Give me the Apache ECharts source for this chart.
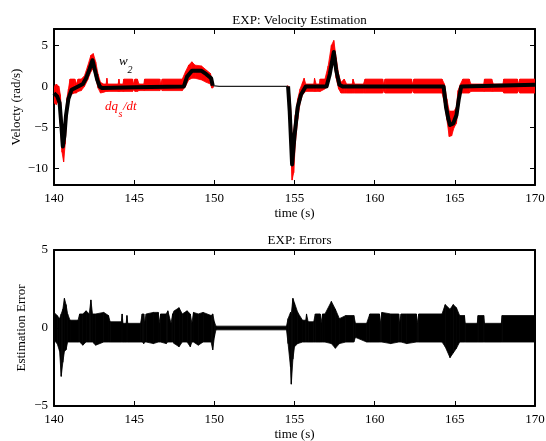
<!DOCTYPE html>
<html>
<head>
<meta charset="utf-8">
<script src="https://cdn.jsdelivr.net/npm/echarts@6/dist/echarts.min.js"></script>
<style>
  html, body { margin: 0; padding: 0; background: #fff; }
  #chart { width: 546px; height: 441px; }
</style>
</head>
<body>
<div id="chart"></div>
<script>
// axis ticks
var velTicks = [-10, -5, 0, 5];
var errTicks = [-5, 0, 5];

// dq_s/dt : [t, low, high] envelope of the noisy red trace (null row = gap)
var dqBand = [
  [140.0, -2.0, 0.0], [140.15, -2.2, 0.3], [140.3, -1.6, 0.0], [140.4, -4.5, -1.0],
  [140.5, -8.0, -4.5], [140.6, -9.2, -6.0], [140.7, -7.0, -4.0], [140.8, -3.5, -1.5],
  [140.9, -2.0, -0.3], [141.0, -1.0, 0.9], [141.3, -0.8, 0.9], [141.4, -0.8, 0.3],
  [141.5, -0.6, 0.9], [141.7, -0.5, 0.9],
  [141.9, 0.0, 1.3], [142.1, 0.8, 2.5], [142.3, 1.8, 3.8], [142.45, 2.2, 4.0],
  [142.6, 1.0, 3.0], [142.75, -0.2, 1.5], [142.9, -0.8, 0.5], [143.1, -0.7, 0.3],
  [143.25, -0.6, 0.3], [143.3, -0.6, 1.0], [143.35, -0.6, 0.3], [144.0, -0.6, 0.3],
  [144.05, -0.6, 0.9], [144.1, -0.6, 0.3], [144.3, -0.6, 0.3], [144.35, -0.6, 0.9],
  [144.9, -0.6, 0.9], [144.95, -0.4, 0.3], [145.05, -0.6, 0.9],
  [145.2, -0.6, 0.9], [145.3, -0.5, 0.3], [145.6, -0.5, 0.3], [145.65, -0.5, 0.9],
  [146.6, -0.5, 0.9], [146.65, -0.3, 0.3], [146.75, -0.5, 0.9],
  [148.0, -0.5, 0.9], [148.2, 0.0, 1.8], [148.4, 0.8, 2.6], [148.6, 1.0, 3.0],
  [148.8, 1.0, 2.6], [149.2, 0.8, 2.5], [149.5, 0.5, 2.0], [149.75, 0.3, 1.6],
  [149.85, -0.2, 1.0], [149.95, -0.1, 0.1],
  [152.0, null, null],
  [154.55, -0.1, 0.1], [154.65, -2.5, 0.0], [154.75, -7.0, -2.0], [154.85, -11.4, -6.0],
  [154.95, -10.5, -5.5], [155.05, -7.0, -3.5], [155.2, -4.0, -1.5], [155.35, -2.0, -0.3],
  [155.5, -1.0, 0.5], [155.6, -0.8, 1.0], [155.7, -0.6, 0.3], [156.2, -0.6, 0.3],
  [156.25, -0.6, 1.0], [156.35, -0.6, 0.3], [156.55, -0.6, 0.3], [156.6, -0.6, 0.9],
  [156.9, -0.3, 0.9], [157.1, 0.5, 2.5], [157.3, 2.5, 5.0], [157.45, 3.0, 5.6],
  [157.6, 1.0, 3.5], [157.75, -0.3, 1.5], [157.9, -0.8, 0.5], [158.1, -0.8, 0.9],
  [158.25, -0.8, 0.3], [158.6, -0.8, 0.3], [158.65, -0.8, 0.9], [158.75, -0.8, 0.3],
  [159.3, -0.8, 0.3], [159.4, -0.8, 0.9], [160.5, -0.8, 0.9], [160.55, -0.5, 0.3],
  [160.65, -0.8, 0.9], [162.3, -0.8, 0.9], [162.35, -0.5, 0.3], [162.45, -0.8, 0.9],
  [164.2, -0.8, 0.9], [164.35, -2.0, 0.3],
  [164.5, -4.0, -1.5], [164.65, -6.1, -3.0], [164.8, -6.0, -3.0], [164.95, -5.0, -3.0],
  [165.1, -4.5, -2.5], [165.2, -3.0, -0.5], [165.35, -0.8, 0.3], [165.5, -0.8, 0.9],
  [165.9, -0.8, 0.9], [166.0, -0.6, 0.3], [166.8, -0.6, 0.3], [166.85, -0.6, 0.9],
  [167.3, -0.6, 0.9], [167.4, -0.6, 0.3], [168.0, -0.6, 0.3], [168.05, -0.8, 0.9],
  [168.9, -0.8, 0.9], [168.95, -0.5, 0.3], [169.05, -0.8, 0.9],
  [170.0, -0.8, 0.9]
];

// w2 estimate (thick black), null = gap while idle
var w2 = [
  [140.0, -0.8], [140.2, -1.2], [140.35, -2.0], [140.45, -4.5], [140.55, -7.3],
  [140.65, -6.0], [140.75, -3.5], [140.9, -1.5], [141.1, -0.4], [141.5, 0.0],
  [141.8, 0.3], [142.0, 1.0], [142.2, 2.0], [142.4, 3.2], [142.55, 2.0],
  [142.7, 0.8], [142.85, 0.0], [143.0, -0.2], [145.0, -0.1], [148.1, 0.0],
  [148.3, 1.2], [148.6, 1.9], [149.2, 1.9], [149.5, 1.5], [149.8, 1.0], [149.9, 0.1],
  [152.0, null],
  [154.6, 0.0], [154.7, -3.0], [154.85, -9.5], [155.0, -6.0], [155.2, -2.5],
  [155.4, -1.0], [155.7, 0.0], [157.0, 0.0], [157.2, 1.5], [157.45, 4.2],
  [157.6, 2.0], [157.8, 0.2], [158.0, 0.0], [164.3, 0.0], [164.45, -2.5],
  [164.6, -4.0], [164.7, -4.7], [164.9, -4.5], [165.1, -3.5], [165.25, -1.5],
  [165.4, 0.0], [170.0, 0.2]
];
var w2Idle = [[149.9, 0.1], [150.3, 0.0], [154.6, 0.0]];

// estimation error envelope [t, low, high]
var errBand = [
  [140.0, -0.8, 1.0], [140.2, -1.0, 0.8], [140.35, -1.5, 0.6], [140.45, -3.1, 0.9],
  [140.55, -2.2, 1.2], [140.65, -1.5, 1.9], [140.75, -1.4, 1.5], [140.85, -0.9, 0.9],
  [141.0, -0.9, 0.5], [141.5, -0.9, 0.5], [141.6, -0.9, 0.9], [141.8, -1.1, 0.9],
  [142.0, -0.9, 1.1], [142.2, -0.9, 0.9],
  [142.3, -0.9, 1.8], [142.4, -0.9, 0.9], [142.6, -1.1, 0.9], [143.1, -0.9, 1.0],
  [143.4, -0.9, 0.8], [143.5, -0.9, 0.4],
  [144.2, -0.9, 0.4], [144.25, -0.9, 0.9], [144.3, -0.9, 0.3], [144.5, -0.9, 0.3],
  [144.55, -0.9, 0.8], [144.6, -0.9, 0.3], [145.4, -0.9, 0.3],
  [145.5, -0.9, 0.9], [145.6, -1.0, 0.9], [145.65, -0.9, 0.3], [145.75, -0.9, 0.9],
  [146.2, -1.0, 1.0], [146.5, -0.9, 1.0], [146.55, -0.9, 0.3], [146.65, -0.9, 0.9],
  [147.0, -1.0, 0.9], [147.1, -0.9, 1.1], [147.3, -0.9, 0.3], [147.4, -0.9, 0.9],
  [147.5, -1.0, 1.1], [147.8, -1.2, 1.3],
  [148.0, -0.9, 0.9], [148.3, -0.9, 1.1], [148.5, -1.2, 0.9], [148.6, -0.9, 0.3],
  [148.7, -0.9, 1.0], [149.0, -1.1, 0.9], [149.3, -0.9, 1.0], [149.8, -0.9, 0.8],
  [149.9, -1.4, 0.9], [150.0, -0.6, 0.4],
  [150.1, -0.12, 0.12], [154.5, -0.12, 0.12], [154.6, -1.0, 0.6], [154.75, -2.5, 1.0],
  [154.8, -3.6, 0.9], [154.9, -2.0, 1.9], [155.0, -1.2, 1.6], [155.2, -1.0, 1.0],
  [155.5, -0.9, 0.5], [155.7, -0.9, 0.5], [155.75, -0.9, 0.9], [155.85, -0.9, 0.4],
  [156.2, -0.9, 0.4], [156.3, -0.9, 0.9], [156.6, -0.9, 0.9], [156.65, -0.9, 0.3],
  [156.75, -0.9, 0.9], [156.9, -0.9, 0.9],
  [157.3, -1.0, 1.7], [157.55, -1.3, 1.2], [157.8, -1.0, 0.6], [158.2, -0.9, 0.8],
  [158.7, -0.9, 0.8], [158.8, -0.6, 0.3], [159.5, -0.9, 0.3], [159.7, -0.9, 0.9],
  [160.3, -0.9, 0.9], [160.35, -0.9, 0.3], [160.45, -0.9, 1.0], [161.0, -1.0, 0.9],
  [161.5, -0.9, 0.9], [161.55, -0.9, 0.3], [161.65, -0.9, 0.9], [162.0, -1.0, 0.9],
  [162.6, -0.9, 0.9], [162.65, -0.9, 0.3], [162.75, -0.9, 0.9],
  [164.2, -0.9, 0.9], [164.4, -1.2, 1.5], [164.7, -1.9, 1.2], [164.9, -1.6, 1.5],
  [165.1, -1.3, 1.3], [165.3, -0.9, 0.8], [165.6, -0.9, 0.8], [165.65, -0.9, 0.3],
  [166.4, -0.9, 0.3], [166.45, -0.9, 0.8], [166.8, -0.9, 0.8], [166.85, -0.9, 0.3],
  [167.9, -0.9, 0.3], [167.95, -0.9, 0.8], [170.0, -0.9, 0.8]
];

var FONT = '"Liberation Serif", "DejaVu Serif", serif';

var minus = function (v) { return String(v).replace('-', '\u2212'); };

// draws the band between row i and row i+1 as one polygon
var bandItem = function (band, color) {
  return function (params, api) {
    var a = band[params.dataIndex], b = band[params.dataIndex + 1];
    if (!b || a[1] == null || b[1] == null) return null;
    return {
      type: 'polygon',
      shape: { points: [
        api.coord([a[0], a[2]]), api.coord([b[0], b[2]]),
        api.coord([b[0], b[1]]), api.coord([a[0], a[1]])
      ] },
      style: { fill: color, stroke: color, lineWidth: 0.8 }
    };
  };
};

var xAxisOf = function (grid, pos, labels) {
  return {
    type: 'value', gridIndex: grid, position: pos,
    min: 140, max: 170, interval: 5,
    name: labels ? 'time (s)' : '', nameLocation: 'middle', nameGap: 22,
    nameTextStyle: { color: '#000', fontFamily: FONT, fontSize: 13 },
    axisLine: { onZero: false, lineStyle: { color: '#000', width: 2 } },
    axisTick: { inside: true, length: 5, lineStyle: { color: '#000', width: 1 } },
    axisLabel: { show: labels, color: '#000', fontFamily: FONT, fontSize: 13, margin: 7 },
    splitLine: { show: false }
  };
};

var yAxisOf = function (grid, pos, labels, min, max, ticks, name, gap) {
  return {
    type: 'value', gridIndex: grid, position: pos, min: min, max: max,
    name: labels ? name : '', nameLocation: 'middle', nameGap: gap,
    nameMoveOverlap: false,
    nameTextStyle: { color: '#000', fontFamily: FONT, fontSize: 13 },
    axisLine: { onZero: false, lineStyle: { color: '#000', width: 2 } },
    axisTick: { inside: true, length: 5, customValues: ticks,
                lineStyle: { color: '#000', width: 1 } },
    axisLabel: { show: labels, customValues: ticks, color: '#000',
                 fontFamily: FONT, fontSize: 13, margin: 6, formatter: minus },
    splitLine: { show: false }
  };
};

var option = {
  animation: false,
  backgroundColor: '#fff',
  title: [
    { text: 'EXP: Velocity Estimation', left: 294.5, top: 9, textAlign: 'center',
      textStyle: { color: '#000', fontFamily: FONT, fontSize: 13, fontWeight: 'normal' } },
    { text: 'EXP: Errors', left: 294.5, top: 229, textAlign: 'center',
      textStyle: { color: '#000', fontFamily: FONT, fontSize: 13, fontWeight: 'normal' } }
  ],
  grid: [
    { left: 54, right: 11, top: 29, height: 156, outerBoundsMode: 'none' },
    { left: 54, right: 11, top: 250, height: 156, outerBoundsMode: 'none' }
  ],
  xAxis: [
    xAxisOf(0, 'bottom', true), xAxisOf(0, 'top', false),
    xAxisOf(1, 'bottom', true), xAxisOf(1, 'top', false)
  ],
  yAxis: [
    yAxisOf(0, 'left', true, -12, 7, velTicks, 'Velocty (rad/s)', 31),
    yAxisOf(0, 'right', false, -12, 7, velTicks, '', 0),
    yAxisOf(1, 'left', true, -5, 5, errTicks, 'Estimation Error', 26),
    yAxisOf(1, 'right', false, -5, 5, errTicks, '', 0)
  ],
  series: [
    {
      name: 'dq_s/dt', type: 'custom', xAxisIndex: 0, yAxisIndex: 0,
      data: dqBand, encode: { x: 0, y: [1, 2] }, clip: true, silent: true,
      renderItem: bandItem(dqBand, '#ff0000')
    },
    {
      name: 'w2 idle', type: 'line', xAxisIndex: 0, yAxisIndex: 0,
      data: w2Idle, showSymbol: false, silent: true,
      lineStyle: { color: '#222', width: 1.3 }
    },
    {
      name: 'w2', type: 'line', xAxisIndex: 0, yAxisIndex: 0,
      data: w2, showSymbol: false, silent: true, connectNulls: false,
      lineStyle: { color: '#000', width: 4, join: 'round' }
    },
    {
      name: 'error', type: 'custom', xAxisIndex: 2, yAxisIndex: 2,
      data: errBand, encode: { x: 0, y: [1, 2] }, clip: true, silent: true,
      renderItem: bandItem(errBand, '#000000')
    }
  ],
  graphic: [
    { type: 'text', x: 119, y: 62, style: { text: 'w', fill: '#000',
      font: 'italic 13px ' + FONT, verticalAlign: 'middle' } },
    { type: 'text', x: 127.5, y: 70, style: { text: '2', fill: '#000',
      font: 'italic 10px ' + FONT, verticalAlign: 'middle' } },
    { type: 'text', x: 105, y: 107, style: { text: 'dq', fill: '#ff0000',
      font: 'italic 13px ' + FONT, verticalAlign: 'middle' } },
    { type: 'text', x: 118.5, y: 114, style: { text: 's', fill: '#ff0000',
      font: 'italic 10px ' + FONT, verticalAlign: 'middle' } },
    { type: 'text', x: 123, y: 107, style: { text: '/dt', fill: '#ff0000',
      font: 'italic 13px ' + FONT, verticalAlign: 'middle' } }
  ]
};

var myChart = echarts.init(document.getElementById('chart'));
myChart.setOption(option);
</script>
</body>
</html>
